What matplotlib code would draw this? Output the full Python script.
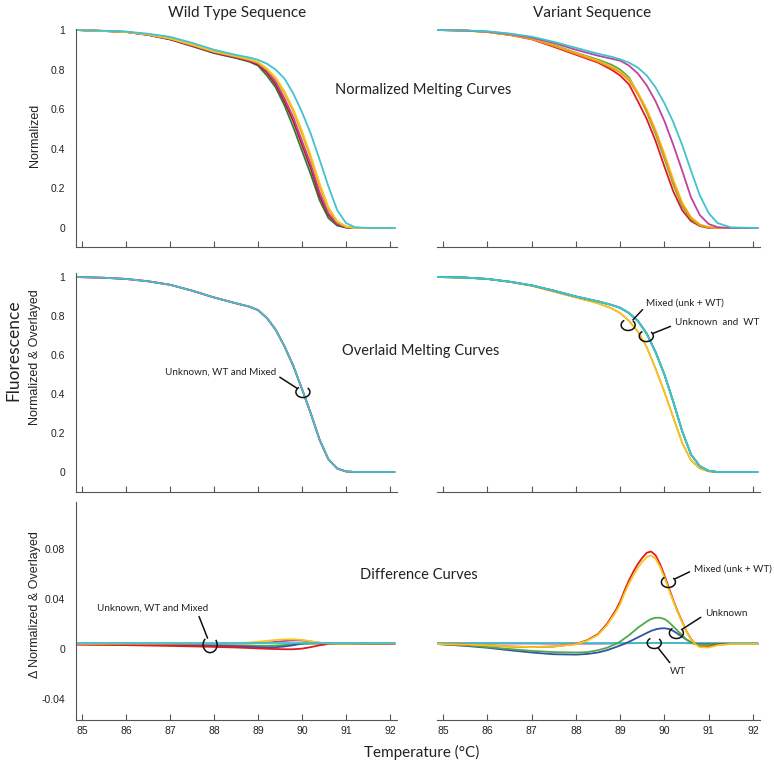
import matplotlib
matplotlib.use("Agg")
import matplotlib.pyplot as plt
from matplotlib.patches import Arc
from matplotlib.transforms import ScaledTranslation

# temperature grids (deg C)
temps = [84.86, 85.5, 86.0, 86.5, 87.0, 87.5, 88.0, 88.5, 88.8, 89.0, 89.2, 89.4,
         89.6, 89.8, 90.0, 90.2, 90.4, 90.6, 90.8, 91.0, 91.2, 91.5, 92.1]
temps_fine = [84.86, 85.5, 86.0, 86.5, 87.0, 87.5, 88.0, 88.25, 88.5, 88.7, 88.9,
              89.0, 89.1, 89.2, 89.3, 89.4, 89.5, 89.6, 89.7, 89.8, 89.9, 90.0,
              90.1, 90.2, 90.3, 90.4, 90.5, 90.6, 90.7, 90.8, 91.0, 91.2, 91.5, 92.1]

# normalized melting curves, wild type sequence
wt_green = [1.0, 0.995, 0.99, 0.975, 0.952, 0.918, 0.883, 0.858, 0.84, 0.82, 0.77, 0.71,
            0.62, 0.51, 0.39, 0.27, 0.14, 0.05, 0.012, 0.002, 0.0, 0.0, 0.0]
wt_red = [1.0, 0.995, 0.99, 0.975, 0.953, 0.92, 0.885, 0.86, 0.843, 0.825, 0.785, 0.725,
          0.64, 0.54, 0.42, 0.30, 0.16, 0.065, 0.018, 0.003, 0.0, 0.0, 0.0]
wt_magenta = [1.0, 0.995, 0.99, 0.976, 0.955, 0.922, 0.888, 0.863, 0.846, 0.83, 0.795, 0.74,
              0.655, 0.56, 0.44, 0.32, 0.18, 0.075, 0.022, 0.004, 0.0, 0.0, 0.0]
wt_orange = [1.0, 0.995, 0.99, 0.977, 0.957, 0.925, 0.89, 0.866, 0.85, 0.835, 0.80, 0.755,
             0.68, 0.59, 0.475, 0.35, 0.21, 0.095, 0.03, 0.006, 0.0, 0.0, 0.0]
wt_yellow = [1.0, 0.995, 0.99, 0.977, 0.957, 0.926, 0.892, 0.868, 0.852, 0.838, 0.805, 0.76,
             0.69, 0.60, 0.49, 0.365, 0.225, 0.105, 0.035, 0.008, 0.0, 0.0, 0.0]
wt_cyan = [1.0, 0.996, 0.992, 0.981, 0.965, 0.935, 0.90, 0.874, 0.861, 0.849, 0.83, 0.80,
           0.755, 0.68, 0.585, 0.475, 0.345, 0.21, 0.09, 0.025, 0.004, 0.0, 0.0]

# normalized melting curves, variant sequence
var_red = [1.0, 0.997, 0.99, 0.975, 0.953, 0.915, 0.875, 0.835, 0.80, 0.77, 0.725, 0.64,
           0.55, 0.44, 0.31, 0.185, 0.09, 0.035, 0.01, 0.0, 0.0, 0.0, 0.0]
var_green = [1.0, 0.997, 0.99, 0.976, 0.958, 0.925, 0.885, 0.85, 0.825, 0.80, 0.76, 0.68,
             0.585, 0.475, 0.35, 0.22, 0.11, 0.045, 0.012, 0.002, 0.0, 0.0, 0.0]
var_orange = [1.0, 0.997, 0.99, 0.975, 0.955, 0.92, 0.88, 0.84, 0.81, 0.785, 0.745, 0.675,
              0.59, 0.485, 0.36, 0.23, 0.12, 0.05, 0.015, 0.003, 0.0, 0.0, 0.0]
var_yellow = [1.0, 0.997, 0.99, 0.976, 0.956, 0.922, 0.883, 0.845, 0.815, 0.79, 0.752, 0.685,
              0.60, 0.495, 0.375, 0.245, 0.13, 0.055, 0.018, 0.004, 0.0, 0.0, 0.0]
var_magenta = [1.0, 0.997, 0.992, 0.98, 0.962, 0.935, 0.90, 0.87, 0.855, 0.845, 0.82, 0.78,
               0.72, 0.64, 0.54, 0.42, 0.29, 0.155, 0.065, 0.02, 0.004, 0.0, 0.0]
var_cyan = [1.0, 0.998, 0.993, 0.982, 0.966, 0.94, 0.91, 0.88, 0.865, 0.852, 0.835, 0.81,
            0.77, 0.71, 0.63, 0.535, 0.42, 0.29, 0.165, 0.075, 0.025, 0.003, 0.0]

# overlaid (temperature shifted) curves
ov_wt = [1.0, 0.996, 0.99, 0.978, 0.96, 0.93, 0.895, 0.865, 0.848, 0.83, 0.79, 0.73,
         0.645, 0.545, 0.425, 0.30, 0.165, 0.065, 0.018, 0.003, 0.0, 0.0, 0.0]
ov_mixed = [1.0, 0.997, 0.99, 0.975, 0.955, 0.925, 0.895, 0.865, 0.84, 0.815, 0.775, 0.72,
            0.64, 0.53, 0.41, 0.28, 0.15, 0.06, 0.018, 0.003, 0.0, 0.0, 0.0]
ov_unknown = [1.0, 0.997, 0.99, 0.976, 0.957, 0.93, 0.90, 0.875, 0.857, 0.842, 0.815, 0.775,
              0.71, 0.615, 0.50, 0.36, 0.21, 0.09, 0.03, 0.006, 0.0, 0.0, 0.0]

# difference curves, wild type sequence
dwt_yellow = [0.0042, 0.0042, 0.0043, 0.0043, 0.0044, 0.0045, 0.0046, 0.0048, 0.0052, 0.0058,
              0.0065, 0.0072, 0.0077, 0.0078, 0.0073, 0.0062, 0.005, 0.0044, 0.0042, 0.0042,
              0.0043, 0.0044, 0.0044]
dwt_magenta = [0.0044, 0.0044, 0.0044, 0.0043, 0.0043, 0.0043, 0.0043, 0.0044, 0.0045, 0.0047,
               0.0051, 0.0057, 0.0064, 0.0069, 0.0068, 0.006, 0.005, 0.0044, 0.0043, 0.0043,
               0.0044, 0.0044, 0.0044]
dwt_red = [0.0035, 0.0033, 0.0031, 0.0028, 0.0025, 0.0021, 0.0017, 0.0012, 0.0008, 0.0005,
           0.0002, 0.0, -0.0002, -0.0002, 0.0003, 0.0015, 0.003, 0.004, 0.0042, 0.0042,
           0.0043, 0.0043, 0.0043]
dwt_blue = [0.0038, 0.0036, 0.0034, 0.0032, 0.003, 0.0028, 0.0025, 0.0021, 0.0018, 0.0015,
            0.0013, 0.0014, 0.002, 0.003, 0.0045, 0.0048, 0.0046, 0.0043, 0.0042, 0.0042,
            0.0043, 0.0043, 0.0043]
dwt_green = [0.004, 0.0038, 0.0037, 0.0036, 0.0034, 0.0032, 0.003, 0.0028, 0.0027, 0.0026,
             0.0026, 0.0028, 0.0032, 0.0037, 0.004, 0.0042, 0.0043, 0.0043, 0.0043, 0.0043,
             0.0043, 0.0043, 0.0043]
dwt_cyan = [0.0045, 0.0045, 0.0045, 0.0045, 0.0045, 0.0045, 0.0045, 0.0045, 0.0045, 0.0045,
            0.0045, 0.0045, 0.0045, 0.0045, 0.0045, 0.0045, 0.0045, 0.0045, 0.0045, 0.0045,
            0.0045, 0.0045, 0.0045]

# difference curves, variant sequence
dvar_red = [0.004, 0.0035, 0.003, 0.002, 0.0015, 0.002, 0.004, 0.007, 0.012, 0.020, 0.031,
            0.038, 0.047, 0.055, 0.062, 0.068, 0.073, 0.077, 0.078, 0.075, 0.068,
            0.059, 0.049, 0.039, 0.030, 0.022, 0.014, 0.008, 0.004, 0.002,
            0.002, 0.0035, 0.004, 0.004]
dvar_yellow = [0.004, 0.0035, 0.003, 0.002, 0.0015, 0.002, 0.0038, 0.0066, 0.0113, 0.019, 0.0295,
               0.036, 0.0448, 0.0525, 0.059, 0.065, 0.0698, 0.0735, 0.0748, 0.0722, 0.0658,
               0.0572, 0.0476, 0.0381, 0.0293, 0.0215, 0.0138, 0.0078, 0.0038, 0.0015,
               0.0012, 0.003, 0.004, 0.004]
dvar_green = [0.004, 0.003, 0.0015, 0.0, -0.0015, -0.0025, -0.0028, -0.0025, -0.001, 0.001, 0.004,
              0.006, 0.0085, 0.011, 0.014, 0.017, 0.0195, 0.022, 0.024, 0.025, 0.025,
              0.024, 0.0215, 0.018, 0.0145, 0.011, 0.0075, 0.005, 0.004, 0.0035,
              0.0035, 0.004, 0.004, 0.004]
dvar_blue = [0.004, 0.0025, 0.001, -0.001, -0.0028, -0.0042, -0.0045, -0.004, -0.0028, -0.001, 0.0015,
             0.0028, 0.0042, 0.0058, 0.0075, 0.0093, 0.011, 0.0128, 0.0145, 0.0157, 0.0164,
             0.0166, 0.016, 0.0145, 0.0122, 0.0098, 0.0075, 0.0055, 0.0043, 0.0038,
             0.0038, 0.004, 0.004, 0.004]
dvar_magenta = [0.0045, 0.0045, 0.0044, 0.0044, 0.0044, 0.0043, 0.0043, 0.0043, 0.0044, 0.0045,
                0.0046, 0.0047, 0.0048, 0.0049, 0.0049, 0.0048, 0.0047, 0.0046, 0.0045, 0.0045,
                0.0045, 0.0045, 0.0045]
dvar_cyan = [0.0046, 0.0046, 0.0046, 0.0046, 0.0046, 0.0046, 0.0046, 0.0046, 0.0046, 0.0046,
             0.0046, 0.0046, 0.0046, 0.0046, 0.0046, 0.0046, 0.0046, 0.0046, 0.0046, 0.0046,
             0.0046, 0.0046, 0.0046]

x_ticks = [85, 86, 87, 88, 89, 90, 91, 92]
norm_ticks = [0, 0.2, 0.4, 0.6, 0.8, 1]
norm_labels = ['0', '0.2', '0.4', '0.6', '0.8', '1']
diff_ticks = [-0.04, 0, 0.04, 0.08]
diff_labels = ['-0.04', '0', '0.04', '0.08']

CYAN = '#3ec3cf'
YELLOW = '#f3c81e'
ORANGE = '#f29a1f'
RED = '#e3191f'
DARKRED = '#b51a24'
MAGENTA = '#bf439b'
GREEN = '#4bab48'
DKGREEN = '#2e7d3a'
BLUE = '#3552a5'

TICKFONT = ['Liberation Sans Narrow', 'Liberation Sans', 'DejaVu Sans']
ARIAL = ['Liberation Sans', 'DejaVu Sans']
MYRIAD = ['Lato', 'DejaVu Sans']
AXCOL = '#555555'
LW = 1.3

W, H = 774, 764
fig = plt.figure(figsize=(W / 100, H / 100), dpi=100)


def box(x0, y0, x1, y1):
    # pixel box (top-left origin) -> figure fraction rect
    return [x0 / W, 1 - y1 / H, (x1 - x0) / W, (y1 - y0) / H]


ax_tl = fig.add_axes(box(76, 29, 397, 247))
ax_tr = fig.add_axes(box(437, 29, 760, 247))
ax_ml = fig.add_axes(box(76, 273, 397, 492))
ax_mr = fig.add_axes(box(437, 273, 760, 492))
ax_bl = fig.add_axes(box(76, 502, 397, 720))
ax_br = fig.add_axes(box(437, 502, 760, 720))

for ax in [ax_tl, ax_tr, ax_ml, ax_mr, ax_bl, ax_br]:
    for s in ['top', 'right']:
        ax.spines[s].set_visible(False)
    ax.spines['bottom'].set_color(AXCOL)
    ax.spines['left'].set_color(AXCOL)
    ax.set_xlim(84.86, 92.16)
    ax.set_xticks(x_ticks)
    ax.tick_params(axis='x', direction='in', length=4, width=0.8, color=AXCOL, pad=4)
    ax.tick_params(axis='y', length=0, pad=8)

for ax in [ax_tr, ax_mr, ax_br]:
    ax.spines['left'].set_visible(False)
    ax.set_yticks([])

for ax in [ax_tl, ax_tr, ax_ml, ax_mr]:
    ax.set_xticklabels([])

for ax in [ax_tl, ax_tr]:
    ax.set_ylim(-0.096, 1.005)
for ax in [ax_ml, ax_mr]:
    ax.set_ylim(-0.1026, 1.0205)
for ax in [ax_bl, ax_br]:
    ax.set_ylim(-0.0568, 0.1176)

for ax in [ax_tl, ax_ml]:
    ax.set_yticks(norm_ticks)
    ax.set_yticklabels(norm_labels, family=TICKFONT, fontsize=7.5, color='#222222')
ax_bl.set_yticks(diff_ticks)
ax_bl.set_yticklabels(diff_labels, family=TICKFONT, fontsize=7.5, color='#222222')
for ax in [ax_bl, ax_br]:
    ax.set_xticklabels([str(t) for t in x_ticks], family=TICKFONT, fontsize=7.5, color='#222222')

# top row
for vals, col in [(wt_green, DKGREEN), (wt_red, DARKRED), (wt_magenta, MAGENTA),
                  (wt_orange, ORANGE), (wt_yellow, YELLOW), (wt_cyan, CYAN)]:
    ax_tl.plot(temps, vals, color=col, lw=LW)
for vals, col in [(var_red, RED), (var_green, GREEN), (var_yellow, YELLOW),
                  (var_orange, ORANGE), (var_magenta, MAGENTA), (var_cyan, CYAN)]:
    ax_tr.plot(temps, vals, color=col, lw=LW)

# middle row
for col in [MAGENTA, RED, CYAN]:
    ax_ml.plot(temps, ov_wt, color=col, lw=LW)
ax_mr.plot(temps, ov_mixed, color=ORANGE, lw=LW)
ax_mr.plot(temps, ov_mixed, color=YELLOW, lw=LW * 0.8)
for col in [BLUE, GREEN, CYAN]:
    ax_mr.plot(temps, ov_unknown, color=col, lw=LW)

# bottom row
for vals, col in [(dwt_green, GREEN), (dwt_blue, BLUE), (dwt_red, RED),
                  (dwt_magenta, MAGENTA), (dwt_yellow, YELLOW), (dwt_cyan, CYAN)]:
    ax_bl.plot(temps, vals, color=col, lw=LW)
ax_br.plot(temps, dvar_magenta, color=MAGENTA, lw=LW)
ax_br.plot(temps, dvar_cyan, color=CYAN, lw=LW)
for vals, col in [(dvar_blue, BLUE), (dvar_green, GREEN), (dvar_red, RED), (dvar_yellow, YELLOW)]:
    ax_br.plot(temps_fine, vals, color=col, lw=LW)


def hook(ax, text, txy, cxy, ha='left', relpos=(0, 0.5), size=(0.14, 0.11)):
    ax.annotate(text, xy=cxy, xytext=txy, ha=ha, va='center', fontsize=7.1,
                family=MYRIAD, color='#222222',
                arrowprops=dict(arrowstyle='-', lw=1.1, color='#111111',
                                shrinkA=1, shrinkB=5, relpos=relpos))
    arc = Arc((0, 0), size[0], size[1], theta1=130, theta2=40, lw=1.1, color='#111111',
              transform=fig.dpi_scale_trans + ScaledTranslation(cxy[0], cxy[1], ax.transData))
    fig.add_artist(arc)


hook(ax_ml, 'Unknown, WT and Mixed', (88.14, 0.513), (90.02, 0.41), ha='center', relpos=(1, 0.2))
hook(ax_mr, 'Mixed (unk + WT)', (89.59, 0.867), (89.18, 0.754), relpos=(0, 0.2))
hook(ax_mr, 'Unknown  and  WT', (90.23, 0.769), (89.59, 0.697), relpos=(0, 0.2))
hook(ax_bl, 'Unknown, WT and Mixed', (86.61, 0.0328), (87.91, 0.0035), ha='center',
     relpos=(0.9, 0), size=(0.14, 0.16))
hook(ax_br, 'Mixed (unk + WT)', (90.66, 0.064), (90.09, 0.0536), relpos=(0, 0.4))
hook(ax_br, 'Unknown', (90.91, 0.0288), (90.27, 0.0128), relpos=(0, 0.3))
hook(ax_br, 'WT', (90.30, -0.0176), (89.77, 0.0048), ha='center', relpos=(0.2, 1))

# titles and labels
fig.text(237 / W, 1 - 13 / H, 'Wild Type Sequence', ha='center', va='center',
         family=MYRIAD, fontsize=11, color='#222222')
fig.text(592 / W, 1 - 13 / H, 'Variant Sequence', ha='center', va='center',
         family=MYRIAD, fontsize=11, color='#222222')
fig.text(423 / W, 1 - 90 / H, 'Normalized Melting Curves', ha='center', va='center',
         family=MYRIAD, fontsize=10.5, color='#222222')
fig.text(421 / W, 1 - 351 / H, 'Overlaid Melting Curves', ha='center', va='center',
         family=MYRIAD, fontsize=10.5, color='#222222')
fig.text(419 / W, 1 - 575 / H, 'Difference Curves', ha='center', va='center',
         family=MYRIAD, fontsize=10.5, color='#222222')
fig.text(422 / W, 1 - 752 / H, 'Temperature (°C)', ha='center', va='center',
         family=MYRIAD, fontsize=11, color='#222222')
fig.text(13 / W, 1 - 350 / H, 'Fluorescence', ha='center', va='center', rotation=90,
         family=MYRIAD, fontsize=12.5, color='#222222')
fig.text(35 / W, 1 - 135 / H, 'Normalized', ha='center', va='center', rotation=90,
         family=ARIAL, fontsize=9, color='#222222')
fig.text(35 / W, 1 - 357 / H, 'Normalized & Overlayed', ha='center', va='center', rotation=90,
         family=ARIAL, fontsize=9, color='#222222')
fig.text(35 / W, 1 - 605 / H, 'Δ Normalized & Overlayed', ha='center', va='center', rotation=90,
         family=ARIAL, fontsize=9, color='#222222')

fig.savefig('out.png', dpi=100)
